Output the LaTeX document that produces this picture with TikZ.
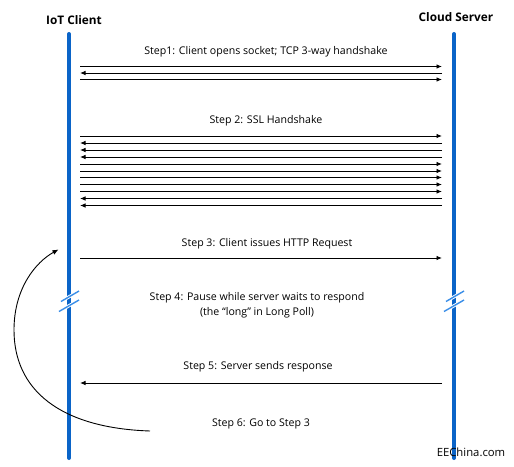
\documentclass[tikz,border=0pt]{standalone}
\usepackage{fontspec}
\setmainfont{Open Sans}
\usetikzlibrary{arrows.meta}
\definecolor{lifeblue}{HTML}{0A64C8}
\definecolor{breakblue}{HTML}{3A8EE8}
\tikzset{
  lifeline/.style={line width=4pt, lifeblue, line cap=round},
  msg/.style={line width=0.9pt, black, -{Latex[length=5.5pt,width=4.5pt]}},
  steptext/.style={font=\fontsize{10.6}{15}\selectfont, align=center, inner sep=0pt},
  header/.style={font=\bfseries\fontsize{11.8}{13}\selectfont, inner sep=0pt},
  breakmark/.style={breakblue, line width=1.4pt},
  breakgap/.style={white, line width=3.2pt},
  loopback/.style={line width=0.9pt, black, -{Latex[length=6pt,width=5pt]}}
}
\begin{document}
\begin{tikzpicture}[x=1pt,y=-1pt]
\useasboundingbox[fill=white] (0,0) rectangle (514,466);
% headers
\node[header] (clienthdr) at (74,20) {IoT Client};
\node[header] (serverhdr) at (456,17) {Cloud Server};
% lifelines
\coordinate (ctop) at (69,34);
\coordinate (cbot) at (69,458);
\coordinate (stop) at (454,34);
\coordinate (sbot) at (454,458);
\draw[lifeline] (ctop) -- (cbot);
\draw[lifeline] (stop) -- (sbot);
% break marks
\foreach \xx/\nm in {69/cb,454/sb}{
  \coordinate (\nm1a) at (\xx-8,301.5);
  \coordinate (\nm1b) at (\xx+10,291);
  \coordinate (\nm2a) at (\xx-10,311.5);
  \coordinate (\nm2b) at (\xx+10,300);
  \draw[breakgap] (\nm1a) -- (\nm1b);
  \draw[breakgap] (\nm2a) -- (\nm2b);
  \draw[breakmark] (\nm1a) -- (\nm1b);
  \draw[breakmark] (\nm2a) -- (\nm2b);
}
% step texts
\node[steptext] (s1) at (266,52) {Step1: Client opens socket; TCP 3-way handshake};
\node[steptext] (s2) at (266,121) {Step 2: SSL Handshake};
\node[steptext] (s3) at (267,243.5) {Step 3: Client issues HTTP Request};
\node[steptext] (s4) at (257,305) {Step 4: Pause while server waits to respond\\(the \char"201C long\char"201D\ in Long Poll)};
\node[steptext] (s5) at (258,366.5) {Step 5: Server sends response};
\node[steptext] (s6) at (261,424) {Step 6: Go to Step 3};
% messages: y / direction (1 = to server, 0 = to client)
\foreach \yy/\dir [count=\i] in {66.5/1,73/0,79.5/1,
  136/1,143/0,150/0,157/0,164/1,171/1,177.5/1,184.5/1,191.5/1,198.5/0,205.5/0,
  258/1,383/0}{
  \coordinate (cl\i) at (80,\yy);
  \coordinate (sr\i) at (442,\yy);
  \ifnum\dir=1
    \draw[msg] (cl\i) -- (sr\i);
  \else
    \draw[msg] (sr\i) -- (cl\i);
  \fi
}
% loop-back arrow
\coordinate (loopstart) at (150,431);
\coordinate (loopleft) at (14,330);
\coordinate (loopend) at (58.5,249.5);
\draw[loopback] (loopstart) .. controls (60,428) and (14,390) .. (loopleft)
  .. controls (14,288) and (36,262) .. (loopend);
% watermark
\node[font=\fontsize{11.3}{12}\selectfont, inner sep=0pt] (wm) at (471,452) {EEChina.com};
\end{tikzpicture}
\end{document}
